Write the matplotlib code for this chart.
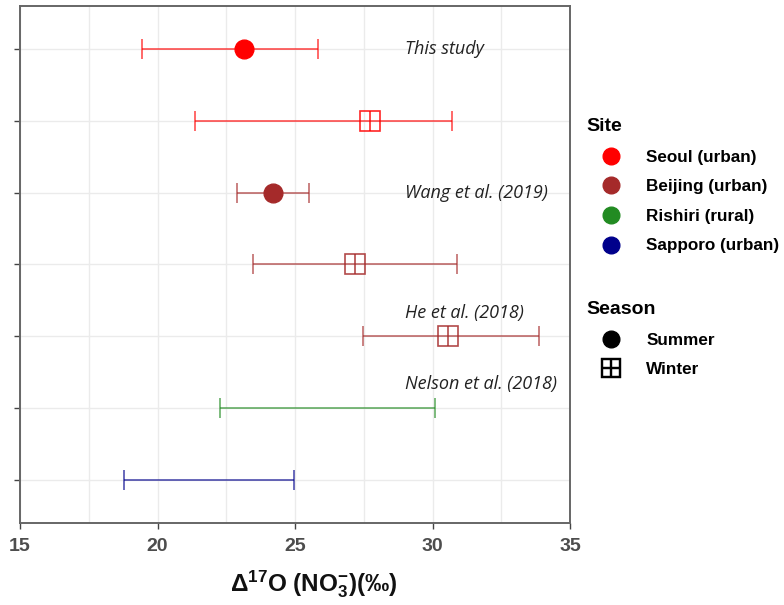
import matplotlib
matplotlib.use("Agg")
import matplotlib.pyplot as plt
from matplotlib.lines import Line2D

# ---- data ----
rows = ["Seoul summer", "Seoul winter", "Beijing summer (Wang)", "Beijing winter (Wang)",
        "Beijing winter (He)", "Rishiri", "Sapporo"]
sites = ["Seoul (urban)", "Seoul (urban)", "Beijing (urban)", "Beijing (urban)",
         "Beijing (urban)", "Rishiri (rural)", "Sapporo (urban)"]
seasons = ["Summer", "Winter", "Summer", "Winter", "Winter", None, None]
means = [23.14, 27.73, 24.19, 27.18, 30.58, 26.19, 21.87]
lows = [19.45, 21.38, 22.89, 23.47, 27.46, 22.29, 18.77]
highs = [25.83, 30.72, 25.51, 30.90, 33.89, 30.08, 24.97]
annotations = [("This study", 0, 0.0), ("Wang et al. (2019)", 2, 0.0),
               ("He et al. (2018)", 4, -0.33), ("Nelson et al. (2018)", 5, -0.33)]
site_names = ["Seoul (urban)", "Beijing (urban)", "Rishiri (rural)", "Sapporo (urban)"]
site_colors = {"Seoul (urban)": "#FF0000", "Beijing (urban)": "#A52A2A",
               "Rishiri (rural)": "#228B22", "Sapporo (urban)": "#00008B"}
xticks = [15, 20, 25, 30, 35]

plt.rcParams['font.family'] = ['Liberation Sans', 'DejaVu Sans']
plt.rcParams['mathtext.fontset'] = 'custom'
plt.rcParams['mathtext.bf'] = 'Liberation Sans:bold'
plt.rcParams['mathtext.rm'] = 'Liberation Sans:bold'
plt.rcParams['mathtext.default'] = 'bf'

fig = plt.figure(figsize=(7.84, 6.05), dpi=100)
ax = fig.add_axes([20/784, 1-523/605, 550/784, 517/605])

ypos = list(range(1, len(rows) + 1))
for i, y in enumerate(ypos):
    c = site_colors[sites[i]]
    ax.errorbar(means[i], y, xerr=[[means[i]-lows[i]], [highs[i]-means[i]]],
                fmt='none', ecolor=c, alpha=0.75, elinewidth=1.1, capsize=7.5,
                capthick=1.1, zorder=3)
    if seasons[i] == "Summer":
        ax.plot(means[i], y, marker='o', ms=13.5, color=c, mec=c, zorder=4, ls='none')
    elif seasons[i] == "Winter":
        ax.plot(means[i], y, marker='s', ms=14, mfc='none', mec=c, mew=1.2,
                alpha=0.85, zorder=4, ls='none')
        ax.plot(means[i], y, marker='|', ms=14, mec=c, mew=1.2, alpha=0.85,
                zorder=4, ls='none')

for txt, idx, dy in annotations:
    ax.text(29.0, ypos[idx] + dy, txt, style='italic', fontsize=13,
            family=['Open Sans', 'DejaVu Sans'], color='#222222',
            ha='left', va='center')

ax.set_xlim(15, 35)
ax.set_ylim(len(rows) + 0.6, 0.4)
ax.set_xticks(xticks)
ax.set_xticks([17.5, 22.5, 27.5, 32.5], minor=True)
ax.set_yticks(ypos)
ax.set_yticklabels([])
ax.tick_params(axis='x', which='major', length=4, width=1, color='#444444',
               labelsize=14, labelcolor='#4D4D4D', pad=7)
ax.tick_params(axis='x', which='minor', length=0)
ax.tick_params(axis='y', length=4, width=1, color='#444444')
for lab in ax.get_xticklabels():
    lab.set_fontweight('bold')
ax.grid(True, which='both', color='#EBEBEB', lw=1.0, zorder=0)
ax.set_axisbelow(True)
for s in ax.spines.values():
    s.set_color('#666666')
    s.set_linewidth(1.4)

fig.text(314/784, 1-584/605, r'Δ$^{17}$O (NO$_3^{-}$)(‰)', fontsize=17.5,
         fontweight='bold', ha='center', va='center', color='#111111')

# legends
common = dict(loc='upper left', frameon=False, prop={'weight': 'bold', 'size': 12.3},
              labelspacing=0.85, handletextpad=0.6, handlelength=2.9,
              borderpad=0.2, borderaxespad=0,
              title_fontproperties={'weight': 'bold', 'size': 14},
              alignment='left')
site_handles = [Line2D([], [], marker='o', ls='none', ms=12, color=site_colors[s])
                for s in site_names]
leg1 = fig.legend(site_handles, site_names, title='Site',
                  bbox_to_anchor=(583/784, 1-115/605), **common)
season_handles = [Line2D([], [], marker='o', ls='none', ms=12, color='black'),
                  Line2D([], [], marker='$\\boxplus$', ls='none', ms=14, color='black',
                         mew=0.3)]
leg2 = fig.legend(season_handles, ["Summer", "Winter"], title='Season',
                  bbox_to_anchor=(583/784, 1-298/605), **common)

fig.savefig('out.png', dpi=100)
